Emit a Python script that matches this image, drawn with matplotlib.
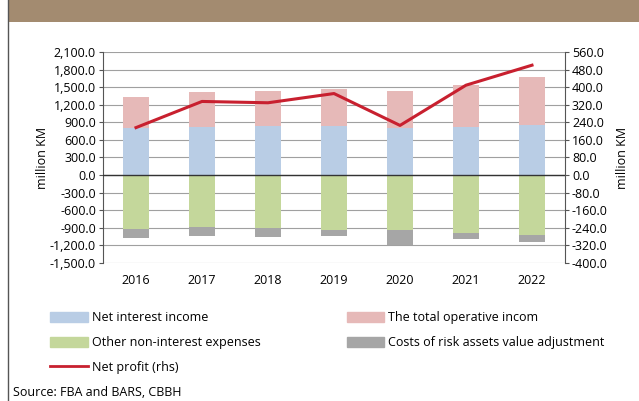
import numpy as np
import matplotlib.pyplot as plt
import matplotlib as mpl
from matplotlib.patches import Patch
from matplotlib.lines import Line2D
from matplotlib.ticker import FuncFormatter, MultipleLocator

mpl.rcParams['font.family'] = ['Open Sans', 'DejaVu Sans']

# 데이터 (million KM)
years = ['2016', '2017', '2018', '2019', '2020', '2021', '2022']
net_interest = [805, 826, 843, 832, 804, 815, 860]
total_operative = [520, 589, 589, 634, 628, 719, 821]   # 위에 쌓인 부분
other_expenses = [-923, -889, -906, -934, -945, -985, -1019]
risk_costs = [-152, -153, -158, -108, -249, -102, -119]
net_profit = [216, 335, 329, 371, 226, 409, 500]  # rhs

c_blue = '#B9CDE5'
c_pink = '#E6B9B8'
c_green = '#C4D79B'
c_grey = '#A6A6A6'
c_red = '#C8202F'

fig = plt.figure(figsize=(6.39, 4.01), dpi=100)

# 상단 갈색 띠 + 왼쪽 테두리
fig.add_artist(plt.Rectangle((8 / 639, 1 - 22 / 401), 1, 22 / 401,
                             transform=fig.transFigure, color='#A38B70', lw=0))
fig.add_artist(Line2D([8 / 639, 8 / 639], [0, 1], transform=fig.transFigure,
                      color='#555555', lw=1.0))

ax = fig.add_axes([103 / 639, 1 - 263 / 401, 462 / 639, 211 / 401])
x = np.arange(len(years))
w = 0.4

ax.bar(x, net_interest, w, color=c_blue, zorder=2)
ax.bar(x, total_operative, w, bottom=net_interest, color=c_pink, zorder=2)
ax.bar(x, other_expenses, w, color=c_green, zorder=2)
ax.bar(x, risk_costs, w, bottom=other_expenses, color=c_grey, zorder=2)

ax.set_xlim(-0.5, len(years) - 0.5)
ax.set_ylim(-1500, 2100)
ax.yaxis.set_major_locator(MultipleLocator(300))
ax.yaxis.set_major_formatter(FuncFormatter(lambda v, p: f"{v:,.1f}"))
ax.grid(axis='y', color='#A0A0A0', linewidth=0.8, zorder=0)
ax.axhline(0, color='#333333', linewidth=1.0, zorder=3)
ax.set_xticks(x)
ax.set_xticklabels(years)
ax.tick_params(axis='x', length=0, pad=8, labelsize=9)
ax.tick_params(axis='y', length=3, color='#555555', labelsize=9, pad=2)
ax.set_ylabel('million KM', fontsize=9, labelpad=1)
for s in ['top', 'bottom', 'right']:
    ax.spines[s].set_visible(False)
ax.spines['left'].set_color('#555555')

ax2 = ax.twinx()
ax2.plot(x, net_profit, color=c_red, linewidth=2.2, zorder=4)
ax2.set_ylim(-400, 560)
ax2.yaxis.set_major_locator(MultipleLocator(80))
ax2.yaxis.set_major_formatter(FuncFormatter(lambda v, p: f"{v:,.1f}"))
ax2.tick_params(axis='y', length=3, color='#555555', labelsize=9, pad=2)
ax2.set_ylabel('million KM', fontsize=9, labelpad=6)
for s in ['top', 'bottom', 'left']:
    ax2.spines[s].set_visible(False)
ax2.spines['right'].set_color('#555555')

handles = [
    Patch(color=c_blue, label='Net interest income'),
    Patch(color=c_green, label='Other non-interest expenses'),
    Line2D([], [], color=c_red, linewidth=2, label='Net profit (rhs)'),
    Patch(color=c_pink, label='The total operative incom'),
    Patch(color=c_grey, label='Costs of risk assets value adjustment'),
]
fig.legend(handles=handles, ncol=2, loc='upper left',
           bbox_to_anchor=(39 / 639, 1 - 300 / 401), frameon=False,
           fontsize=9, handlelength=3.0, handleheight=0.8,
           handletextpad=0.3, labelspacing=0.95, columnspacing=6.9)

fig.text(13 / 639, 1 - 392 / 401, 'Source: FBA and BARS, CBBH',
         fontsize=9, va='center', ha='left')

plt.savefig('out.png', dpi=100)
